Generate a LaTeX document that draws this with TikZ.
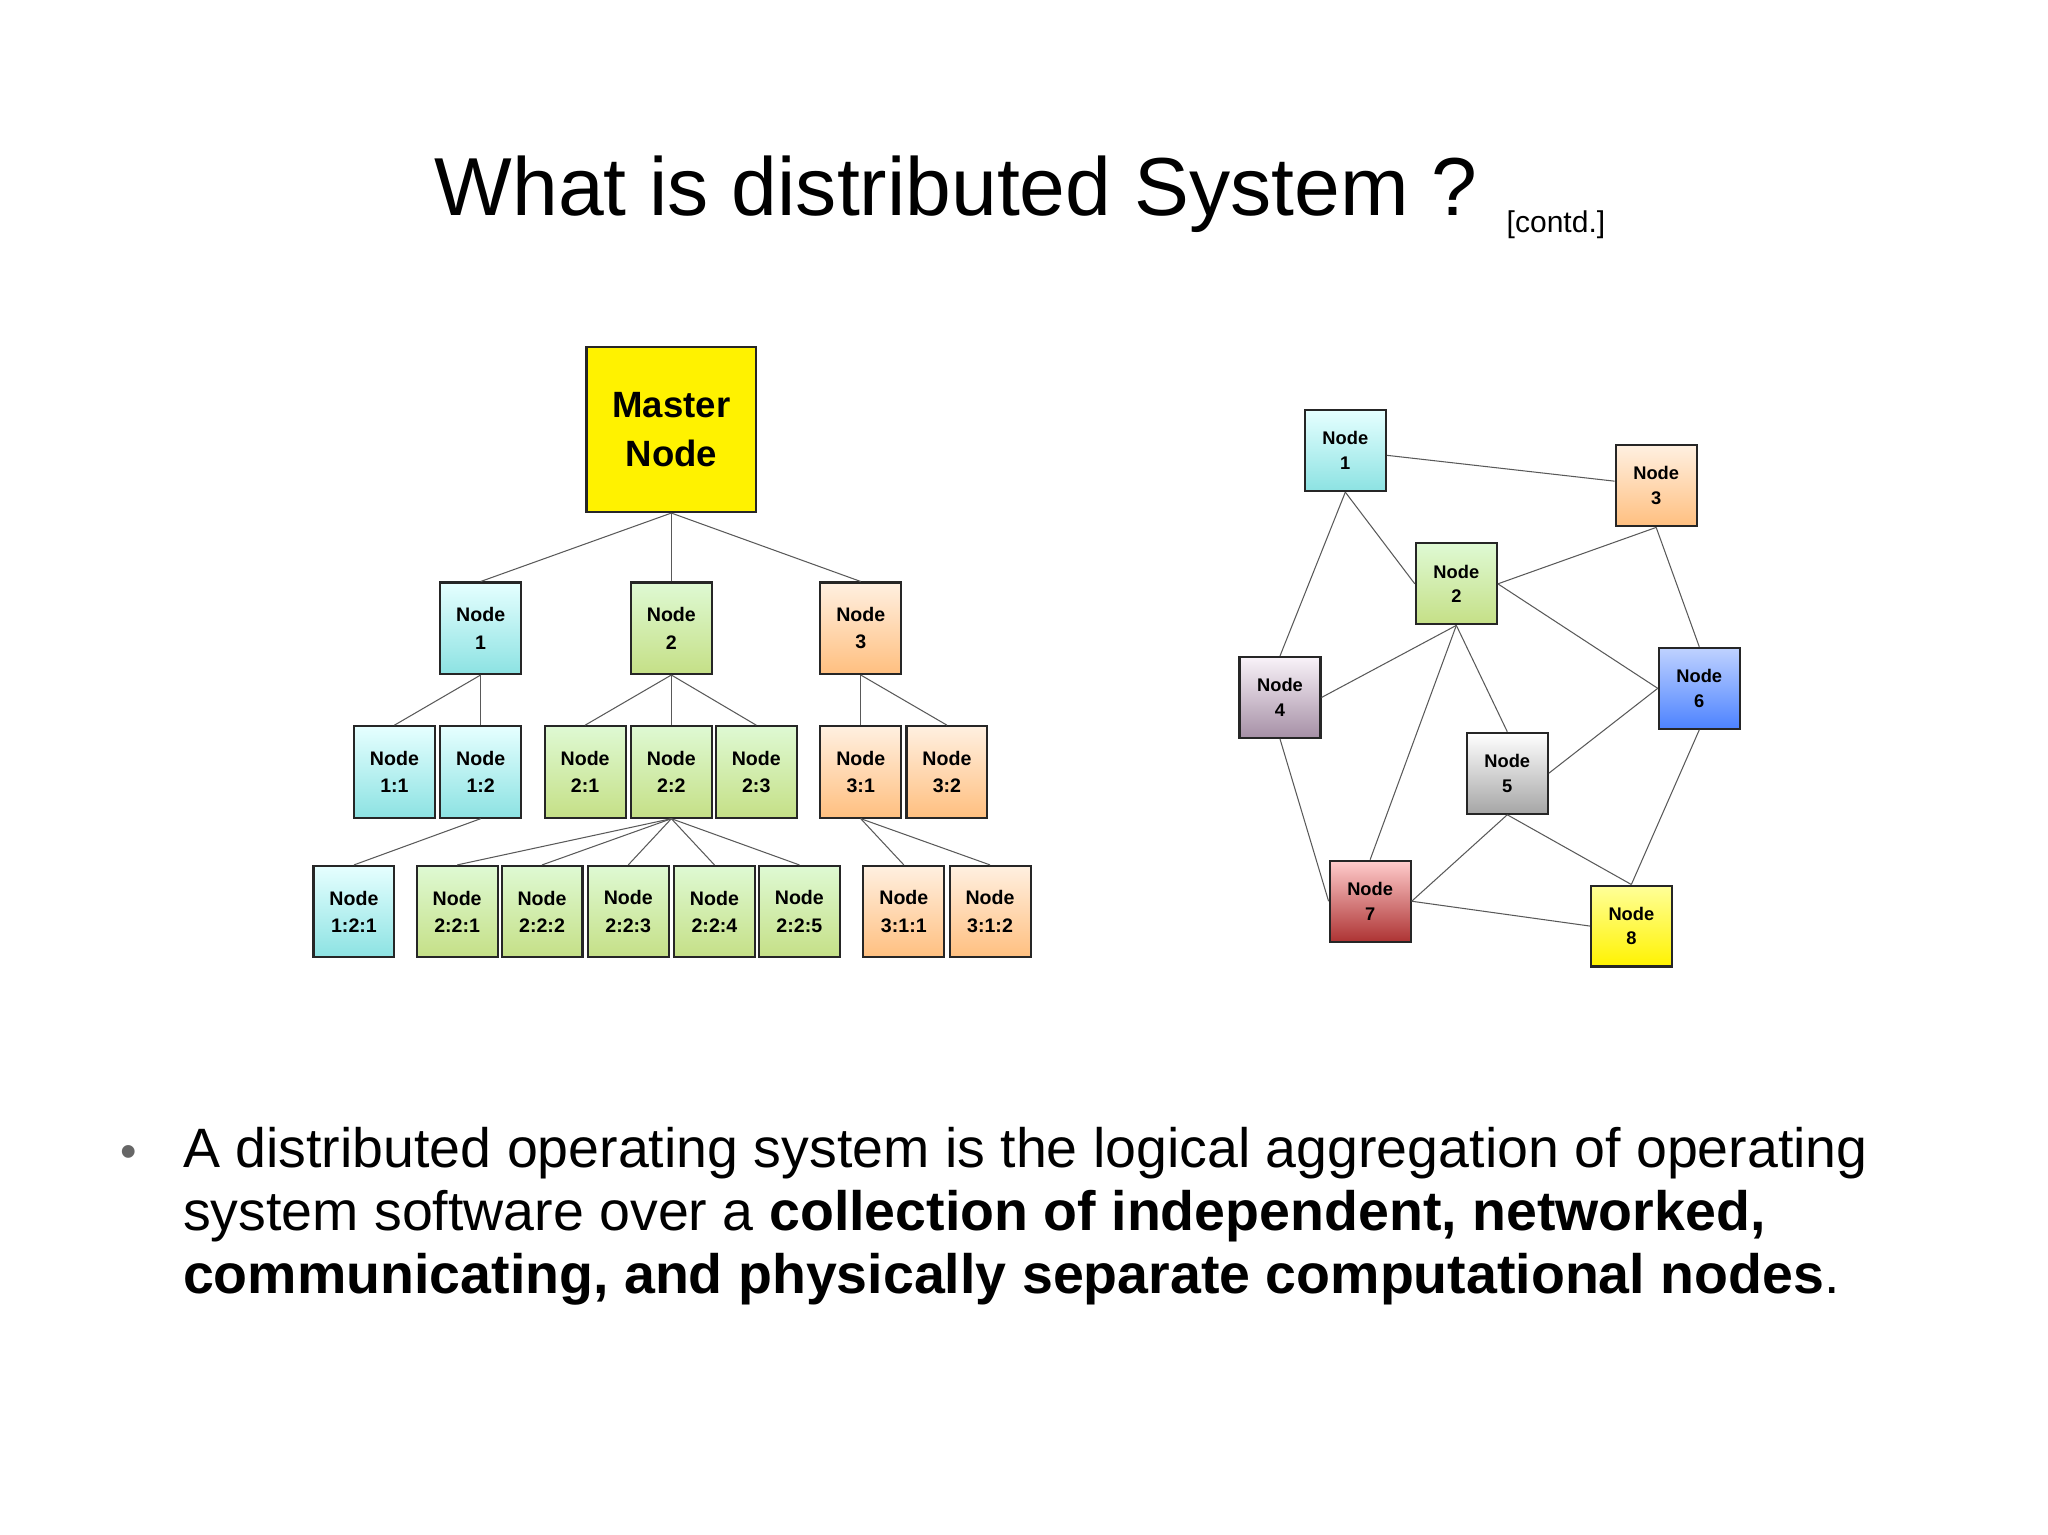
\documentclass[tikz,border=0pt]{standalone}
\usepackage{fontspec}
\setmainfont{Liberation Sans}
\begin{document}
\begin{tikzpicture}[x=1pt,y=-1pt,
 bx/.style={draw=black!85,line width=1.6pt,minimum width=62pt,minimum height=70pt,inner sep=0pt,align=center,font=\fontsize{15}{21}\selectfont\bfseries},
 nx/.style={bx,minimum height=62pt,font=\fontsize{14}{19}\selectfont\bfseries},
 bl/.style={top color=cyan!10!white,bottom color=cyan!50!teal!45!white},
 gr/.style={top color=olive!30!green!15!white,bottom color=olive!70!green!35!white},
 og/.style={top color=orange!12,bottom color=orange!50},
 pu/.style={top color=violet!5,bottom color=violet!25!gray!70},
 db/.style={top color=cyan!30!blue!25,bottom color=blue!70!cyan!70},
 gy/.style={top color=white,bottom color=black!35},
 rd/.style={top color=red!20,bottom color=red!60!black!80},
 ye/.style={top color=yellow!40,bottom color=yellow!90!orange},
 tl/.style={anchor=base west,inner sep=0pt,font=\fontsize{42.5}{42.5}\selectfont}]
\useasboundingbox (0,0) rectangle (1568,1175);
\tikzset{ln/.style={draw=black!65,line width=0.8pt}}
\node[anchor=base] (title) at (732,165) {\fontsize{63}{63}\selectfont What is distributed System ?};
\node[anchor=base west] (contd) at (1150,178) {\fontsize{23}{23}\selectfont [contd.]};
% tree
\node[bx,fill=yellow,minimum width=130pt,minimum height=126pt,font=\fontsize{28}{38}\selectfont\bfseries] (m) at (514,329) {Master\\Node};
\node[bx,bl] (t1) at (368,481) {Node\\1};
\node[bx,gr] (t2) at (514,481) {Node\\2};
\node[bx,og] (t3) at (659,481) {Node\\3};
\node[bx,bl] (t11) at (302,591) {Node\\1:1};
\node[bx,bl] (t12) at (368,591) {Node\\1:2};
\node[bx,gr] (t21) at (448,591) {Node\\2:1};
\node[bx,gr] (t22) at (514,591) {Node\\2:2};
\node[bx,gr] (t23) at (579,591) {Node\\2:3};
\node[bx,og] (t31) at (659,591) {Node\\3:1};
\node[bx,og] (t32) at (725,591) {Node\\3:2};
\node[bx,bl] (t121) at (271,698) {Node\\1:2:1};
\node[bx,gr] (t221) at (350,698) {Node\\2:2:1};
\node[bx,gr] (t222) at (415,698) {Node\\2:2:2};
\node[bx,gr] (t223) at (481,698) {Node\\2:2:3};
\node[bx,gr] (t224) at (547,698) {Node\\2:2:4};
\node[bx,gr] (t225) at (612,698) {Node\\2:2:5};
\node[bx,og] (t311) at (692,698) {Node\\3:1:1};
\node[bx,og] (t312) at (758,698) {Node\\3:1:2};
\foreach \c in {t1,t2,t3} \draw[ln] (m.south) -- (\c.north);
\foreach \c in {t11,t12} \draw[ln] (t1.south) -- (\c.north);
\foreach \c in {t21,t22,t23} \draw[ln] (t2.south) -- (\c.north);
\foreach \c in {t31,t32} \draw[ln] (t3.south) -- (\c.north);
\draw[ln] (t12.south) -- (t121.north);
\foreach \c in {t221,t222,t223,t224,t225} \draw[ln] (t22.south) -- (\c.north);
\foreach \c in {t311,t312} \draw[ln] (t31.south) -- (\c.north);
% network
\node[nx,bl] (n1) at (1030,345) {Node\\1};
\node[nx,og] (n3) at (1268,372) {Node\\3};
\node[nx,gr] (n2) at (1115,447) {Node\\2};
\node[nx,pu] (n4) at (980,534) {Node\\4};
\node[nx,db] (n6) at (1301,527) {Node\\6};
\node[nx,gy] (n5) at (1154,592) {Node\\5};
\node[nx,rd] (n7) at (1049,690) {Node\\7};
\node[nx,ye] (n8) at (1249,709) {Node\\8};
\draw[ln] (n1) -- (n3);
\draw[ln] (n1.south) -- (n4.north);
\draw[ln] (n1.south) -- (n2.west);
\draw[ln] (n2.east) -- (n3.south);
\draw[ln] (n2.east) -- (n6.west);
\draw[ln] (n2.south) -- (n4.east);
\draw[ln] (n2.south) -- (n7.north);
\draw[ln] (n2.south) -- (n5.north);
\draw[ln] (n3.south) -- (n6.north);
\draw[ln] (n6.west) -- (n5.east);
\draw[ln] (n6.south) -- (n8.north);
\draw[ln] (n4.south) -- (n7.west);
\draw[ln] (n5.south) -- (n7.east);
\draw[ln] (n5.south) -- (n8.north);
\draw[ln] (n7.east) -- (n8.west);
% bullet text
\node[anchor=base west,inner sep=0pt,text=black!60] (bul) at (92,894) {\fontsize{36}{36}\selectfont\textbullet};
\node[tl] (l1) at (140,894) {A distributed operating system is the logical aggregation of operating};
\node[tl] (l2) at (140,942) {system software over a \textbf{collection of independent, networked,}};
\node[tl] (l3) at (140,990) {\textbf{communicating, and physically separate computational nodes}.};
\end{tikzpicture}
\end{document}
